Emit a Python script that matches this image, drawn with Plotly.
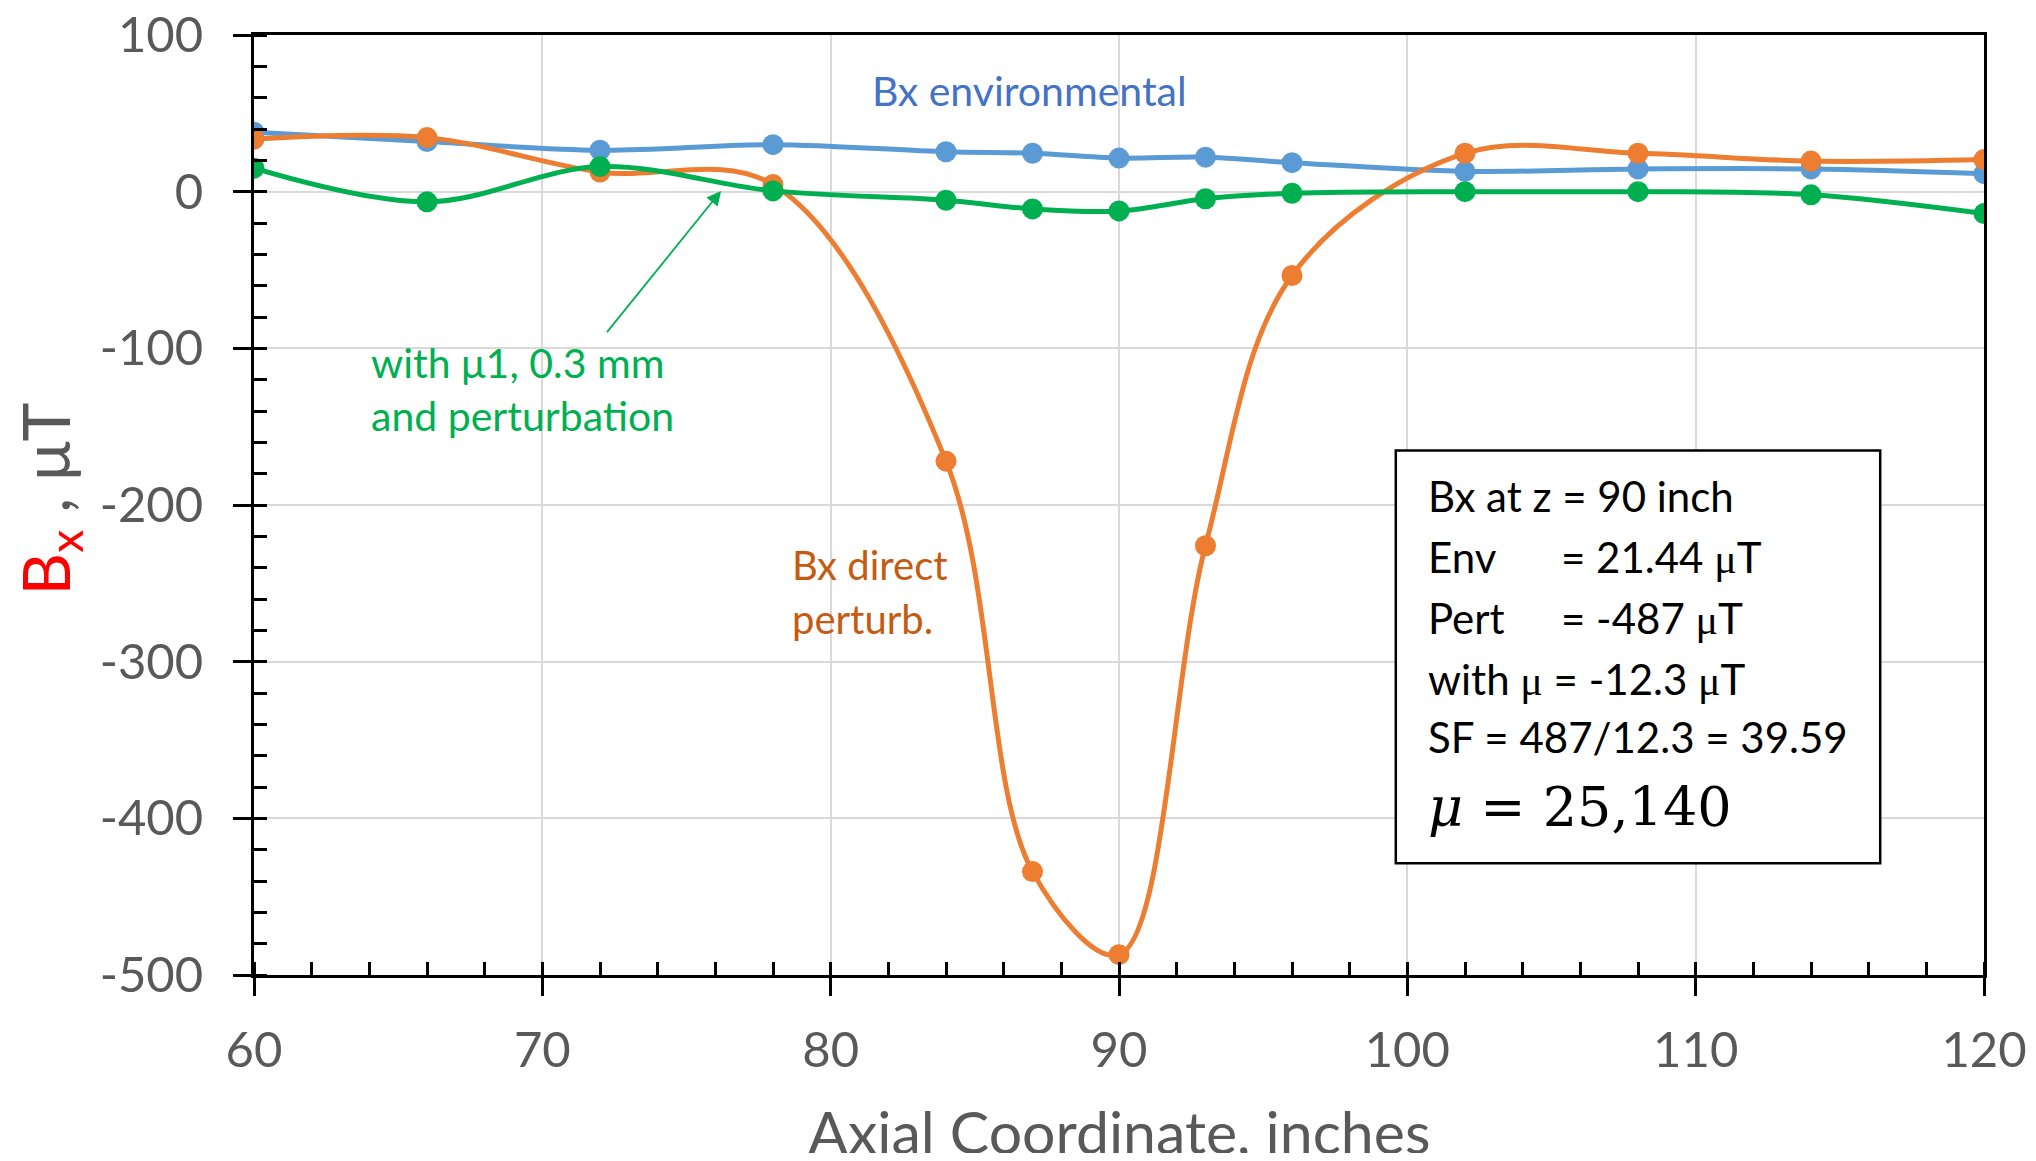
import plotly.graph_objects as go

# ---- data ----
z_inches = [60, 66, 72, 78, 84, 87, 90, 93, 96, 102, 108, 114, 120]
bx_environmental = [38, 32, 26.5, 30, 25.5, 24.5, 21.44, 22, 18.5, 13, 14.5, 14.5, 11.5]
bx_direct_perturb = [33.5, 34.5, 12.5, 4.5, -172, -434, -487, -226, -53.5, 24.5, 24.5, 19.5, 20.5]
bx_with_mu = [15, -6.5, 16, 0.5, -5.5, -11, -12.3, -4.5, -1, 0, 0, -2, -14]

x_tick_vals = [60, 70, 80, 90, 100, 110, 120]
x_tick_text = ["60", "70", "80", "90", "100", "110", "120"]
y_tick_vals = [100, 0, -100, -200, -300, -400, -500]
y_tick_text = ["100", "0", "-100", "-200", "-300", "-400", "-500"]

BLUE = "#5B9BD5"
ORANGE = "#ED7D31"
GREEN = "#00B050"
FONT = "Lato"
GREY = "#595959"

fig = go.Figure()
for ys, col in [(bx_environmental, BLUE), (bx_direct_perturb, ORANGE), (bx_with_mu, GREEN)]:
    fig.add_trace(go.Scatter(
        x=z_inches, y=ys, mode="lines+markers",
        line=dict(color=col, width=5, shape="spline", smoothing=1.0),
        marker=dict(size=21, color=col),
        showlegend=False, hoverinfo="skip"))

# invisible trace for overlay axes (inside part of major ticks)
fig.add_trace(go.Scatter(x=[None], y=[None], xaxis="x2", yaxis="y2",
                         showlegend=False, hoverinfo="skip"))

axis_common = dict(showline=True, linecolor="black", linewidth=3, mirror=True,
                   showgrid=True, gridcolor="#D9D9D9", gridwidth=2, zeroline=False,
                   ticks="outside", ticklen=18, tickwidth=3, tickcolor="black",
                   automargin=False, ticklabeloverflow="allow",
                   tickfont=dict(family=FONT, size=49, color=GREY))

fig.update_layout(
    width=2020, height=1145,
    margin=dict(l=246, r=44, t=27, b=178),
    paper_bgcolor="white", plot_bgcolor="white",
    xaxis=dict(**axis_common, range=[60, 120], tickmode="array",
               tickvals=x_tick_vals, ticktext=x_tick_text, ticklabelstandoff=12,
               minor=dict(ticks="inside", ticklen=13, tickwidth=2.5, dtick=2,
                          tickcolor="black", showgrid=False)),
    yaxis=dict(**axis_common, range=[-500, 100], tickmode="array",
               tickvals=y_tick_vals, ticktext=y_tick_text, ticklabelstandoff=20,
               minor=dict(ticks="inside", ticklen=13, tickwidth=2.5, dtick=20,
                          tickcolor="black", showgrid=False)),
    xaxis2=dict(overlaying="x", range=[60, 120], showgrid=False, zeroline=False,
                showline=False, tickmode="array", tickvals=x_tick_vals,
                ticks="inside", ticklen=13, tickwidth=3, tickcolor="black",
                showticklabels=False, anchor="y2", side="bottom", automargin=False),
    yaxis2=dict(overlaying="y", range=[-500, 100], showgrid=False, zeroline=False,
                showline=False, tickmode="array", tickvals=y_tick_vals,
                ticks="inside", ticklen=13, tickwidth=3, tickcolor="black",
                showticklabels=False, anchor="x2", side="left", automargin=False),
)

# axis titles (annotations so they can sit exactly like the original)
fig.add_annotation(xref="paper", yref="paper", x=0.5, y=-0.167,
                   text="Axial Coordinate, inches", showarrow=False,
                   xanchor="center", yanchor="middle",
                   font=dict(family=FONT, size=59, color=GREY))
fig.add_annotation(xref="paper", yref="paper", x=-0.1185, y=0.507, textangle=-90,
                   text="<span style='color:#FF0000'>B<sub>x</sub></span> , μT",
                   showarrow=False, xanchor="center", yanchor="middle",
                   font=dict(family=FONT, size=66, color=GREY))

# series labels
fig.add_annotation(x=81.35, y=64.4, text="Bx environmental", showarrow=False,
                   xanchor="left", yanchor="middle",
                   font=dict(family=FONT, size=41, color="#4472C4"))
fig.add_annotation(x=78.6, y=-238, text="Bx direct", showarrow=False,
                   xanchor="left", yanchor="middle",
                   font=dict(family=FONT, size=40, color="#C55A11"))
fig.add_annotation(x=78.6, y=-273, text="perturb.", showarrow=False,
                   xanchor="left", yanchor="middle",
                   font=dict(family=FONT, size=40, color="#C55A11"))
fig.add_annotation(x=64.0, y=-109, text="with μ1, 0.3 mm", showarrow=False,
                   xanchor="left", yanchor="middle",
                   font=dict(family=FONT, size=41, color=GREEN))
fig.add_annotation(x=64.0, y=-143, text="and perturbation", showarrow=False,
                   xanchor="left", yanchor="middle",
                   font=dict(family=FONT, size=41, color=GREEN))
fig.add_annotation(x=76.2, y=0.5, ax=72.2, ay=-90.6, axref="x", ayref="y",
                   xref="x", yref="y", text="", showarrow=True,
                   arrowcolor=GREEN, arrowwidth=1.8, arrowhead=2, arrowsize=1.6)

# info box
fig.add_shape(type="rect", x0=99.6, x1=116.4, y0=-428.7, y1=-165.2,
              xref="x", yref="y", line=dict(color="black", width=2.5),
              fillcolor="white", layer="above")
MU = "<span style='font-family:Liberation Serif'>μ</span>"
box_lines = [
    (100.63, -194.2, "Bx at z = 90 inch"),
    (100.63, -233.1, "Env"),
    (105.27, -233.1, "= 21.44 " + MU + "T"),
    (100.63, -272.1, "Pert"),
    (105.27, -272.1, "= -487 " + MU + "T"),
    (100.63, -311.0, "with " + MU + " = -12.3 " + MU + "T"),
    (100.63, -348.3, "SF = 487/12.3 = 39.59"),
]
for bx, by, txt in box_lines:
    fig.add_annotation(x=bx, y=by, text=txt, showarrow=False, xanchor="left",
                       yanchor="middle", font=dict(family=FONT, size=42, color="black"))
fig.add_annotation(x=100.63, y=-393.1, text="<i>μ</i> = 25,140", showarrow=False,
                   xanchor="left", yanchor="middle",
                   font=dict(family="DejaVu Serif", size=54, color="black"))

fig.write_html("out.html")
